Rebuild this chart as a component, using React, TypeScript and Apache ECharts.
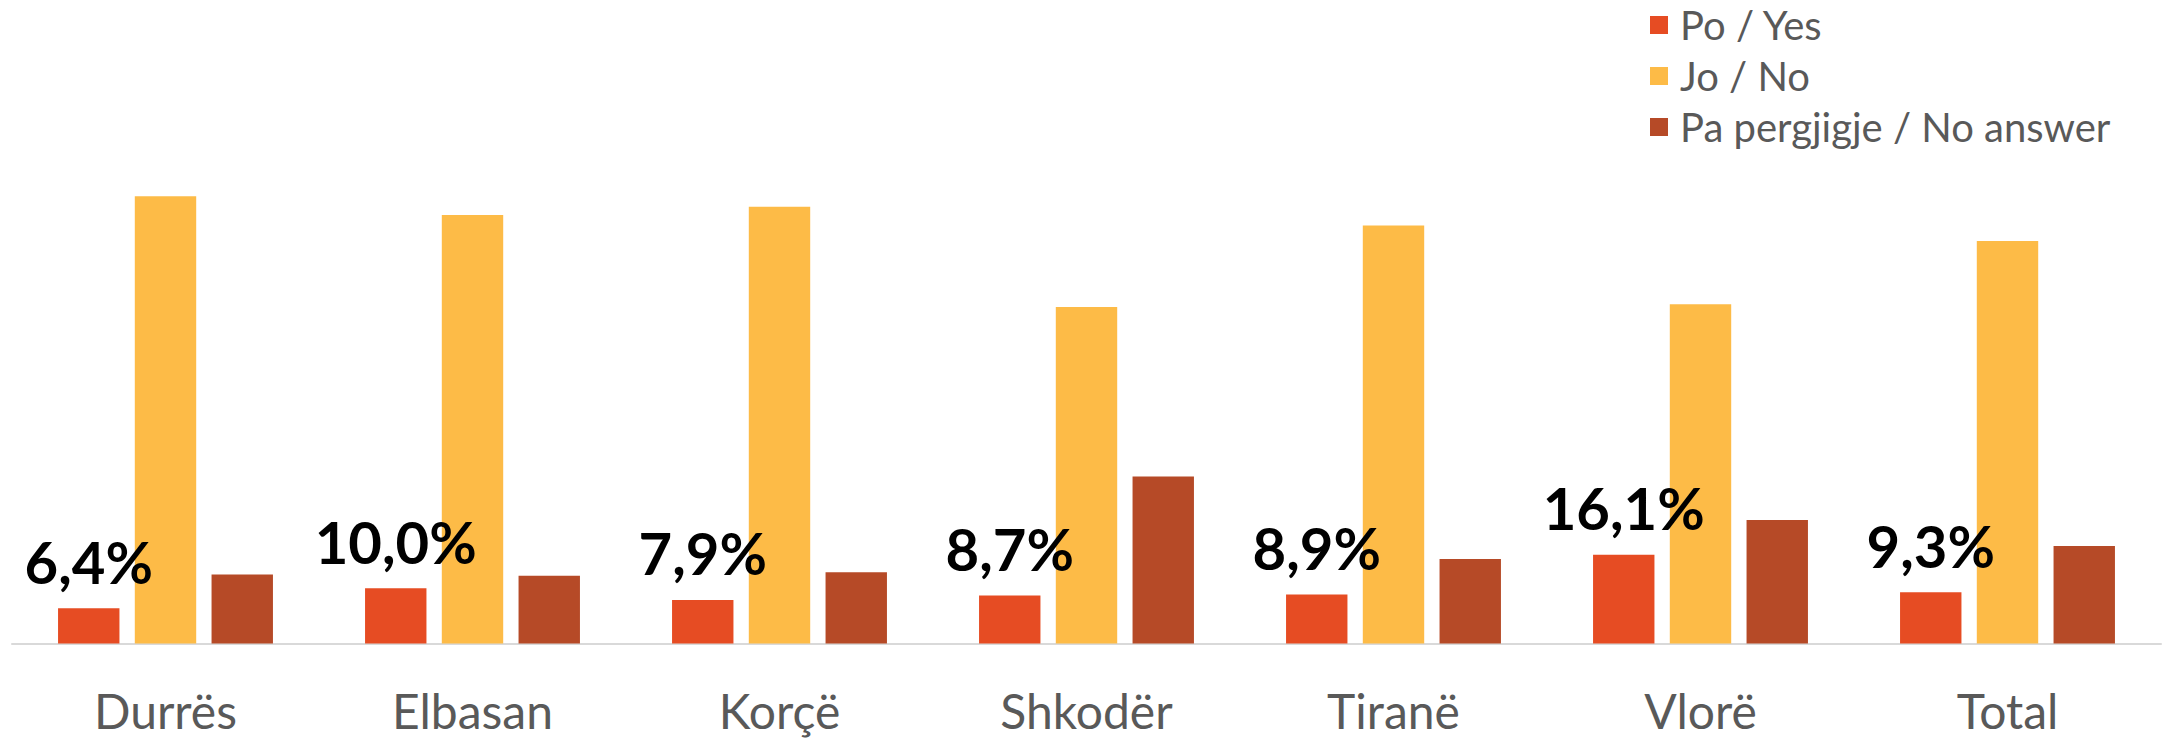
import React, { useEffect, useRef } from "react";
import * as echarts from "echarts";

const categories = ["Durrës", "Elbasan", "Korçë", "Shkodër", "Tiranë", "Vlorë", "Total"];
const seriesNames = ["Po / Yes", "Jo / No", "Pa pergjigje / No answer"];
const yesValues = [6.4, 10.0, 7.9, 8.7, 8.9, 16.1, 9.3];
const noValues = [81.1, 77.7, 79.2, 61.0, 75.8, 61.5, 73.0];
const noAnswerValues = [12.5, 12.3, 12.9, 30.3, 15.3, 22.4, 17.7];
const colors = ["#E64C23", "#FDBB47", "#B64A27"];

export default function App() {
  const ref = useRef<HTMLDivElement>(null);
  useEffect(() => {
    document.body.style.margin = "0";
    document.body.style.overflow = "hidden";
    const chart = echarts.init(ref.current!, null, { renderer: "svg" });
    const fmt = (p: any) => Number(p.value).toFixed(1).replace(".", ",") + "%";
    chart.setOption({
      animation: false,
      color: colors,
      textStyle: { fontFamily: "Lato" },
      legend: {
        orient: "vertical",
        left: 1650,
        top: 5,
        padding: 0,
        itemWidth: 18,
        itemHeight: 18,
        itemGap: 11,
        icon: "rect",
        selectedMode: false,
        textStyle: {
          fontSize: 40,
          color: "#595959",
          fontFamily: "Lato",
          padding: [0, 0, 0, 7],
          lineHeight: 40,
        },
        data: seriesNames,
      },
      grid: { left: 12, right: 2, top: 92, bottom: 94.5, containLabel: false },
      xAxis: {
        type: "category",
        data: categories,
        axisLine: { lineStyle: { color: "#D9D9D9", width: 2 } },
        axisTick: { show: false },
        axisLabel: { fontSize: 48, color: "#595959", margin: 43, fontFamily: "Lato" },
      },
      yAxis: { type: "value", min: 0, max: 100, show: false, splitLine: { show: false } },
      series: [
        {
          name: seriesNames[0],
          type: "bar",
          data: yesValues,
          barGap: "25%",
          barCategoryGap: "30%",
          label: {
            show: true,
            position: "top",
            distance: 18,
            formatter: fmt,
            fontSize: 58,
            fontWeight: "bold",
            color: "#000000",
            fontFamily: "Lato",
          },
        },
        { name: seriesNames[1], type: "bar", data: noValues, barGap: "25%", barCategoryGap: "30%" },
        { name: seriesNames[2], type: "bar", data: noAnswerValues, barGap: "25%", barCategoryGap: "30%" },
      ],
    });
    return () => chart.dispose();
  }, []);
  return <div ref={ref} style={{ width: 2163, height: 738 }} />;
}
